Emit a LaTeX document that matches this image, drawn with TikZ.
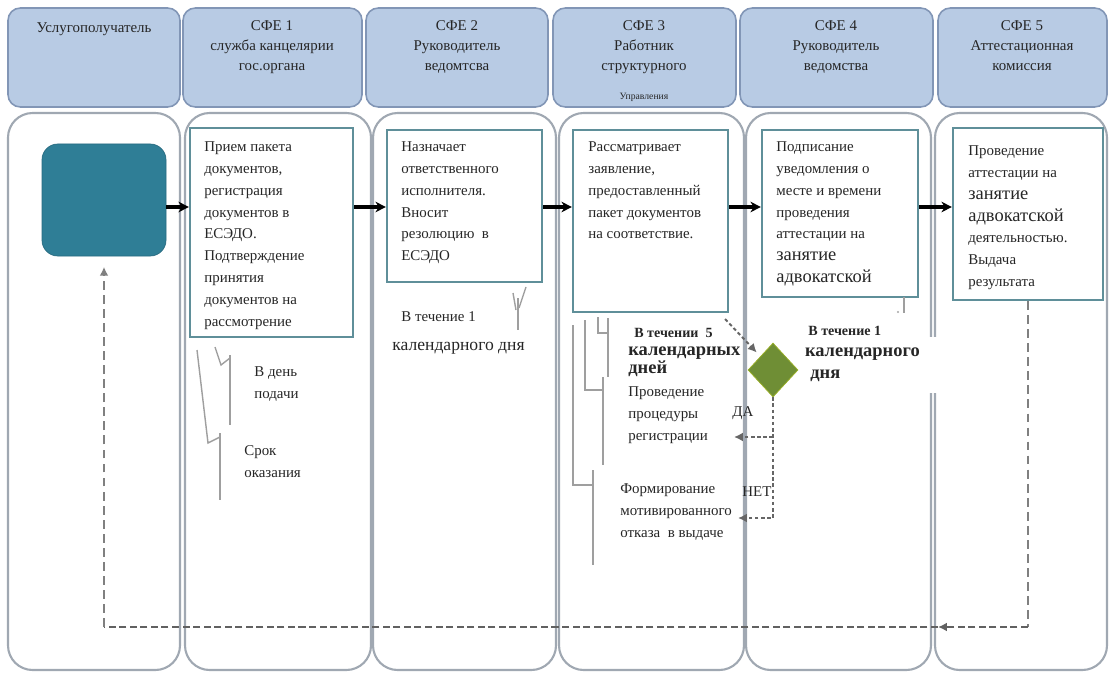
\documentclass[tikz,border=0pt]{standalone}
\usepackage{fontspec}
\setmainfont{Liberation Serif}
\usetikzlibrary{shapes.geometric,arrows.meta,fit,calc}
\definecolor{hdrfill}{HTML}{B8CBE4}
\definecolor{hdrdraw}{HTML}{8296B6}
\definecolor{lanedraw}{HTML}{A0A8B2}
\definecolor{boxdraw}{HTML}{5F8F99}
\definecolor{userfill}{HTML}{2F7E96}
\definecolor{diafill}{HTML}{6F8E35}
\definecolor{txt}{HTML}{262626}
\begin{document}
\begin{tikzpicture}[x=0.02cm,y=-0.02cm,
  hdr/.style={draw=hdrdraw,fill=hdrfill,line width=0.9pt,rounded corners=7pt},
  lane/.style={draw=lanedraw,fill=white,line width=1.2pt,rounded corners=14pt},
  pbox/.style={draw=boxdraw,fill=white,line width=1.2pt,inner sep=0pt},
  ubox/.style={fill=userfill,draw=userfill!85!black,line width=0.4pt,rounded corners=9pt,inner sep=0pt},
  dia/.style={diamond,fill=diafill,draw=diafill!70!yellow,line width=0.4pt,minimum width=1cm,minimum height=1.08cm,inner sep=0pt},
  htxt/.style={inner sep=0pt,anchor=north,align=center,font=\fontsize{8.5}{11.5}\selectfont,text=txt},
  ptxt/.style={inner sep=0pt,anchor=north west,align=left,font=\fontsize{8.5}{12.5}\selectfont,text=txt},
  flow/.style={-{Stealth[length=6pt,width=6pt]},line width=1.8pt,black},
  brk/.style={draw=gray!75,line width=0.8pt},
  ret/.style={draw=black!62,line width=1.7pt,dash pattern=on 4pt off 2pt},
  retv/.style={draw=black!50,line width=0.9pt,dash pattern=on 5pt off 3pt},
  dd/.style={draw=black!60,line width=1.1pt,dash pattern=on 2pt off 1.5pt},
  endtip/.style={-{Latex[length=5pt,width=5pt]}},
]
\useasboundingbox (0,0) rectangle (1109,679);

% lanes
\path[lane] (8,113) rectangle (180,670);
\path[lane] (185,113) rectangle (371,670);
\path[lane] (373,113) rectangle (556,670);
\path[lane] (559,113) rectangle (744,670);
\path[lane] (746,113) rectangle (931,670);
\path[lane] (935,113) rectangle (1107,670);

% headers
\path[hdr] (8,8) rectangle (180,107);
\path[hdr] (183,8) rectangle (362,107);
\path[hdr] (366,8) rectangle (548,107);
\path[hdr] (553,8) rectangle (736,107);
\path[hdr] (740,8) rectangle (933,107);
\path[hdr] (938,8) rectangle (1107,107);
\node[htxt] (h0) at (94,22) {Услугополучатель};
\node[htxt] (h1) at (272,20) {СФЕ 1\\служба канцелярии\\гос.органа};
\node[htxt] (h2) at (457,20) {СФЕ 2\\Руководитель\\ведомтсва};
\node[htxt] (h3) at (644,20) {СФЕ 3\\Работник\\структурного};
\node[htxt,font=\fontsize{5.5}{6}\selectfont] (h3b) at (644,93) {Управления};
\node[htxt] (h4) at (836,20) {СФЕ 4\\Руководитель\\ведомства};
\node[htxt] (h5) at (1022,20) {СФЕ 5\\Аттестационная\\комиссия};

% process boxes
\node[ubox,fit={(42,144) (166,256)}] (u) {};
\node[pbox,fit={(190,128) (353,337)}] (b1) {};
\node[pbox,fit={(387,130) (542,282)}] (b2) {};
\node[pbox,fit={(573,130) (728,312)}] (b3) {};
\node[pbox,fit={(762,130) (918,297)}] (b4) {};
\node[pbox,fit={(953,128) (1103,300)}] (b5) {};

\node[ptxt] (b1t) at (204,141) {Прием пакета\\документов,\\регистрация\\документов в\\ЕСЭДО.\\Подтверждение\\принятия\\документов на\\рассмотрение};
\node[ptxt] (b2t) at (401,141) {Назначает\\ответственного\\исполнителя.\\Вносит\\резолюцию\ \ в\\ЕСЭДО};
\node[ptxt] (b3t) at (588,141) {Рассматривает\\заявление,\\предоставленный\\пакет документов\\на соответствие.};
\node[ptxt] (b4t) at (776,141) {Подписание\\уведомления о\\месте и времени\\проведения\\аттестации на\\{\fontsize{10.5}{12.5}\selectfont занятие}\\{\fontsize{10.5}{12.5}\selectfont адвокатской}};
\node[ptxt] (b5t) at (968,145) {Проведение\\аттестации на\\{\fontsize{10.5}{12.5}\selectfont занятие}\\{\fontsize{10.5}{12.5}\selectfont адвокатской}\\деятельностью.\\Выдача\\результата};

% flow arrows
\coordinate (ay) at (0,207);
\draw[flow] (u.east |- ay) -- (b1.west |- ay);
\draw[flow] (b1.east |- ay) -- (b2.west |- ay);
\draw[flow] (b2.east |- ay) -- (b3.west |- ay);
\draw[flow] (b3.east |- ay) -- (b4.west |- ay);
\draw[flow] (b4.east |- ay) -- (b5.west |- ay);

% lane 1 notes
\node[ptxt] (n1a) at (254,366) {В день\\подачи};
\node[ptxt] (n1b) at (244,445) {Срок\\оказания};
\draw[brk] (215,347) -- (221,365) -- (230,358);
\draw[brk] (230,355) -- (230,425);
\draw[brk] (197,350) -- (208,443) -- (220,437);
\draw[brk] (220,433) -- (220,500);

% lane 2 notes
\node[ptxt] (n2a) at (401,311) {В течение 1};
\node[ptxt,font=\fontsize{10}{12.5}\selectfont] (n2b) at (392,342) {календарного дня};
\draw[brk] (513,293) -- (516,310);
\draw[brk] (526,287) -- (519,308);
\draw[brk] (518,298) -- (518,330);

% lane 3 notes
\draw[brk] (598,317) -- (598,333) -- (608,333);
\draw[brk] (608,318) -- (608,377);
\draw[brk] (585,320) -- (585,390) -- (603,390);
\draw[brk] (603,377) -- (603,465);
\draw[brk] (573,325) -- (573,485) -- (593,485);
\draw[brk] (593,470) -- (593,565);
\node[ptxt,font=\fontsize{8}{10}\bfseries] (n3a) at (634,328) {В течении\ \ 5};
\node[ptxt,font=\fontsize{10.5}{10.5}\bfseries] (n3b) at (628,346) {календарных\\дней};
\node[ptxt] (n3c) at (628,386) {Проведение\\процедуры\\регистрации};
\node[ptxt] (n3d) at (620,483) {Формирование\\мотивированного\\отказа\ \ в выдаче};
\node[ptxt] (da) at (732,406) {ДА};
\node[ptxt] (net) at (742,486) {НЕТ};

% lane 4 notes
\draw[brk] (904,297) -- (904,313);
\fill[gray!70] (898,312) circle (1.2);
\node[fill=white,text width=2.6cm,minimum height=1.12cm,inner sep=2pt,align=left,font=\fontsize{10.5}{12.5}\bfseries\selectfont,text=txt] (n4b) at (870,365) {календарного\\\hspace*{3pt}дня};
\node[ptxt,font=\fontsize{8}{10}\bfseries] (n4a) at (808,326) {В течение 1};

% decision
\node[dia] (d) at (773,370) {};
\coordinate (ny) at (0,518);
\coordinate (nt) at (738,518);
\coordinate (dy) at (0,437);
\coordinate (dt) at (734,437);
\draw[dd,endtip,shorten >=3pt] ($(b3.south east)+(-4,6)$) -- (d.north west);
\draw[dd,endtip] (d.south) -- (d.south |- ny) -- (nt);
\draw[dd,endtip] (d.south |- dy) -- (dt);

% return path
\coordinate (by) at (0,627);
\coordinate (ra) at (938,627);
\draw[retv] (b5.south) -- (b5.south |- by);
\draw[ret,endtip] (b5.south |- by) -- (ra);
\draw[ret] (ra) -- (u.south |- by);
\draw[retv,endtip,shorten >=6pt] (u.south |- by) -- (u.south);
\end{tikzpicture}
\end{document}
